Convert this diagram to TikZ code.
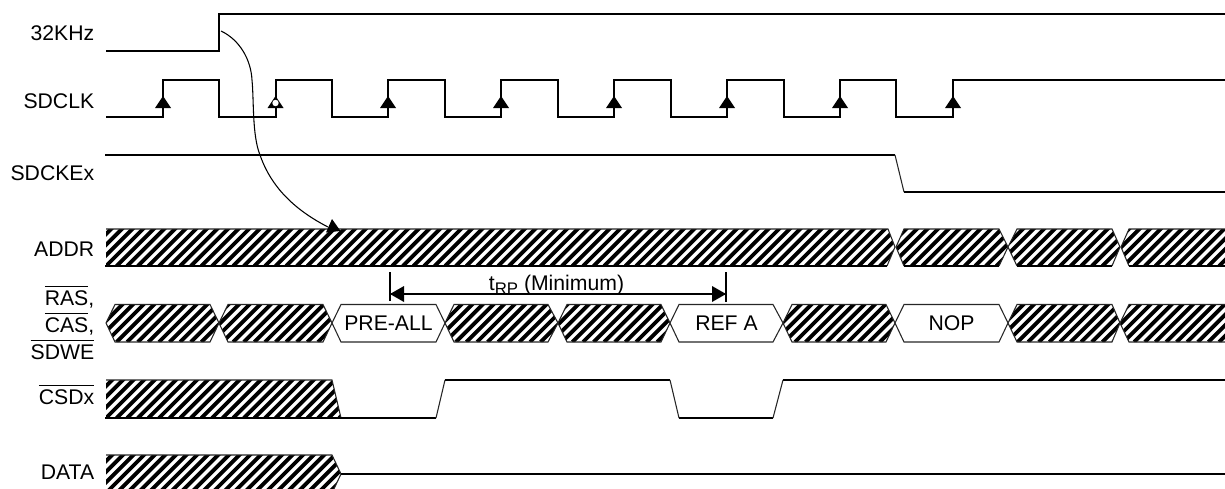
\documentclass[tikz,border=0pt]{standalone}
\usepackage{fontspec}
\setmainfont{Liberation Sans}
\newcommand\ovl[1]{\setbox0\hbox{#1}\rlap{\raisebox{13.4pt}{\rule{\wd0}{0.9pt}}}\box0}
% #1 closed path, #2 x-start, #3 x-end, #4 y-bottom, #5 outline path
\newcommand\hatchband[5]{%
  \begin{scope}
    \clip #1;
    \pgfmathsetmacro{\xa}{floor((#2-60)/10.6)*10.6}
    \pgfmathsetmacro{\xb}{\xa+10.6}
    \foreach \x in {\xa,\xb,...,#3}
      \draw[stripe] (\x,#4) -- ++(50,-50);
  \end{scope}
  \draw[thinline] #5;}
\tikzset{
  x=0.75pt,y=-0.75pt,
  stripe/.style={line width=2.9pt,black},
  sigline/.style={line width=1.5pt,black,line join=miter},
  thinline/.style={line width=0.8pt,black!85,line join=miter},
  dimline/.style={line width=1.5pt,black},
  lab/.style={anchor=base east,inner sep=0pt,font=\fontsize{15.9}{18}\selectfont},
  mid/.style={inner sep=0pt,font=\fontsize{15.9}{18}\selectfont},
  tip/.style={fill=black,draw=none},
}
\begin{document}
\begin{tikzpicture}
\useasboundingbox (0,0) rectangle (1225,489);
\clip (0,0) rectangle (1225,489);
% labels
\node[lab] (l32) at (94.5,40) {32KHz};
\node[lab] (lclk) at (94.5,108) {SDCLK};
\node[lab] (lcke) at (94.5,180) {SDCKEx};
\node[lab] (laddr) at (94.5,256) {ADDR};
\node[lab] (lras) at (94.5,305) {\ovl{RAS},};
\node[lab] (lcas) at (94.5,332) {\ovl{CAS},};
\node[lab] (lwe) at (94.5,359) {\ovl{SDWE}};
\node[lab] (lcs) at (94.5,404) {\ovl{CSDx}};
\node[lab] (ldata) at (94.5,479) {DATA};
% 32KHz
\draw[sigline] (106,51) -- (219,51) -- (219,14) -- (1225,14);
% SDCLK
\draw[sigline] (106,117) -- (163,117) -- (163,80) -- (219,80) -- (219,117)
  -- (275.5,117) -- (275.5,80) -- (332,80) -- (332,117)
  -- (388,117) -- (388,80) -- (445,80) -- (445,117)
  -- (501,117) -- (501,80) -- (558,80) -- (558,117)
  -- (614,117) -- (614,80) -- (671,80) -- (671,117)
  -- (727,117) -- (727,80) -- (784,80) -- (784,117)
  -- (840,117) -- (840,80) -- (896,80) -- (896,117)
  -- (953,117) -- (953,80) -- (1225,80);
\foreach \x in {163,388,501,614,727,840,953}
  \fill[tip] (\x,96) -- (\x-8,108) -- (\x+8,108) -- cycle;
\fill[tip] (275.5,96) -- (267.5,108) -- (283.5,108) -- cycle;
\fill[white] (275.5,103) circle[radius=3.2];
% SDCKEx
\draw[sigline] (105,155) -- (895,155);
\draw[thinline] (895,155) -- (904,192);
\draw[sigline] (904,192) -- (1225,192);
% ADDR
\hatchband{(106,229) -- (888,229) -- (895,247) -- (887,266) -- (106,266) -- cycle}{106}{895}{266}{(106,229) -- (888,229) -- (895,247) -- (887,266)}
\hatchband{(896,247) -- (904,229) -- (999,229) -- (1008,247) -- (999,266) -- (904,266) -- cycle}{896}{1008}{266}{(904,266) -- (896,247) -- (904,229) -- (999,229) -- (1008,247) -- (999,266)}
\hatchband{(1008,247) -- (1017,229) -- (1112,229) -- (1120,247) -- (1112,266) -- (1017,266) -- cycle}{1008}{1120}{266}{(1017,266) -- (1008,247) -- (1017,229) -- (1112,229) -- (1120,247) -- (1112,266)}
\hatchband{(1121,247) -- (1129,229) -- (1225,229) -- (1225,266) -- (1129,266) -- cycle}{1121}{1225}{266}{(1129,266) -- (1121,247) -- (1129,229) -- (1225,229)}
\draw[sigline] (105,266) -- (887,266);
\draw[sigline] (904,266) -- (999,266);
\draw[sigline] (1017,266) -- (1112,266);
\draw[sigline] (1129,266) -- (1225,266);
% RAS row
\foreach \a/\b/\c/\d in {106/115/210/219, 219/228/323/332, 445/454/548/558, 558/567/661/670, 783/792/886/895, 1008/1017/1112/1120}{
  \hatchband{(\a,323) -- (\b,304.5) -- (\c,304.5) -- (\d,323) -- (\c,342) -- (\b,342) -- cycle}{\a}{\d}{342}{(\a,323) -- (\b,304.5) -- (\c,304.5) -- (\d,323) -- (\c,342) -- (\b,342) -- cycle}
}
\hatchband{(1120,323) -- (1129,304.5) -- (1225,304.5) -- (1225,342) -- (1129,342) -- cycle}{1120}{1225}{342}{(1225,304.5) -- (1129,304.5) -- (1120,323) -- (1129,342) -- (1225,342)}
\foreach \a/\b/\c/\d/\t/\n in {332/341/436/445/PRE-ALL/pre, 670/679/773/783/REF A/refa, 895/904/999/1008/NOP/nop}{
  \draw[thinline] (\a,323) -- (\b,304.5) -- (\c,304.5) -- (\d,323) -- (\c,342) -- (\b,342) -- cycle;
  \node[mid] (\n) at ({(\a+\d)/2},323) {\t};
}
% tRP
\coordinate (rpl) at (390,294);
\coordinate (rpr) at (726,294);
\draw[dimline] (390,272) -- (390,301);
\draw[dimline] (726,272) -- (726,302);
\node[anchor=base,inner sep=0pt,font=\fontsize{15.9}{18}\selectfont] (trp) at (556.5,290) {t\raisebox{-3.6pt}{\fontsize{12.6}{14}\selectfont RP} (Minimum)};
\fill[white] (486,295) rectangle (530,300);
\draw[dimline] (rpl) -- (rpr);
\fill[tip] (rpl) -- ++(14,-8) -- ++(0,16) -- cycle;
\fill[tip] (rpr) -- ++(-14,-8) -- ++(0,16) -- cycle;
% CSDx
\hatchband{(106,380) -- (332,380) -- (341,418) -- (106,418) -- cycle}{106}{341}{418}{(106,380) -- (332,380) -- (341,418)}
\draw[sigline] (105,418) -- (436,418);
\draw[thinline] (436,418) -- (445,380);
\draw[sigline] (445,380) -- (670,380);
\draw[thinline] (670,380) -- (679,418);
\draw[sigline] (679,418) -- (773,418);
\draw[thinline] (773,418) -- (783,380);
\draw[sigline] (783,380) -- (1225,380);
% DATA
\hatchband{(106,455) -- (332,455) -- (341,474) -- (332,493) -- (106,493) -- cycle}{106}{341}{493}{(106,455) -- (332,455) -- (341,474) -- (332,493)}
\draw[sigline] (341,474) -- (1225,474);
% causal arrow
\coordinate (edge) at (221,31);
\coordinate (hit) at (328,227);
\draw[line width=0.8pt,black] (edge) .. controls (240,40) and (251,60) .. (252,80)
  .. controls (254,100) and (252,135) .. (260,155)
  .. controls (268,178) and (285,205) .. (hit);
\fill[tip] (332,219) -- (326,232.5) -- (340.5,231) -- cycle;
\end{tikzpicture}
\end{document}
